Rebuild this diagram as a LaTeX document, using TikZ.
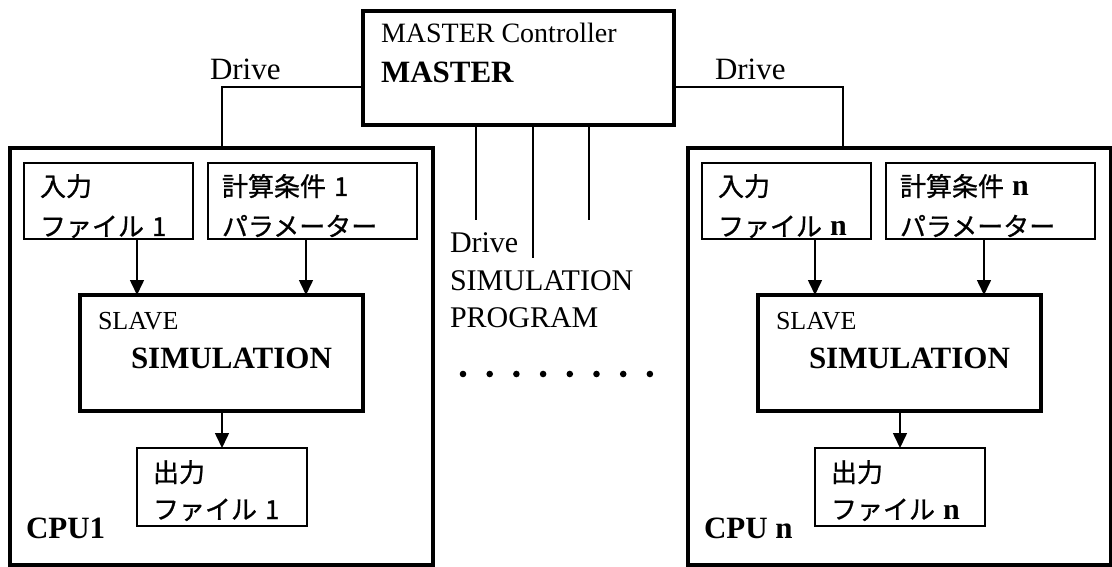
\documentclass[tikz,border=0pt]{standalone}
\usepackage{fontspec}
\setmainfont{Liberation Serif}
\newfontfamily\jp[FakeBold=0.9]{Noto Sans CJK JP}
\usetikzlibrary{arrows.meta}

% one CPU column: #1 name suffix, #2 horizontal shift, #3 index in the Japanese labels, #4 CPU label
\newcommand\cpucolumn[4]{%
\begin{scope}[xshift=#2pt]
  \node[thickbox, minimum width=423pt, minimum height=417pt] (cpu#1) at (10,148) {};
  \node[thinbox, minimum width=169pt, minimum height=76pt] (in#1) at (24,163) {};
  \node[thinbox, minimum width=209pt, minimum height=76pt] (par#1) at (208,163) {};
  \node[thickbox, minimum width=283pt, minimum height=116pt] (sl#1) at (80,295) {};
  \node[thinbox, minimum width=170pt, minimum height=78pt] (out#1) at (137,448) {};
  \node[jptxt] (inA#1) at (40,196) {入力};
  \node[jptxt] (inB#1) at (40,236) {ファイル\hspace{8pt}#3};
  \node[jptxt] (parA#1) at (222,196) {計算条件\hspace{8pt}#3};
  \node[jptxt] (parB#1) at (222,236) {パラメーター};
  \node[jptxt] (outA#1) at (153,482) {出力};
  \node[jptxt] (outB#1) at (153,519) {ファイル\hspace{8pt}#3};
  \node[txt, font=\fontsize{26}{30}\selectfont] (slA#1) at (98,329) {SLAVE};
  \node[txt, font=\fontsize{31}{36}\selectfont\bfseries] (slB#1) at (131,368) {SIMULATION};
  \node[txt, font=\fontsize{31}{36}\selectfont\bfseries] (lab#1) at (26,538) {#4};
  \coordinate (xa#1) at (137,0);
  \coordinate (xb#1) at (306,0);
  \coordinate (xc#1) at (222,0);
  \draw[arr] (in#1.south -| xa#1) -- (sl#1.north -| xa#1);
  \draw[arr] (par#1.south -| xb#1) -- (sl#1.north -| xb#1);
  \draw[arr] (sl#1.south -| xc#1) -- (out#1.north -| xc#1);
\end{scope}}

\begin{document}
\begin{tikzpicture}[x=1pt, y=-1pt,
  thickbox/.style={draw, line width=3.2pt, inner sep=0pt, outer sep=0pt, anchor=north west},
  thinbox/.style={draw, line width=1.6pt, inner sep=0pt, outer sep=0pt, anchor=north west},
  wire/.style={line width=1.6pt},
  arr/.style={line width=1.6pt, -{Triangle[length=15pt, width=14pt]}},
  txt/.style={inner sep=0pt, outer sep=0pt, anchor=base west},
  jptxt/.style={txt, font=\jp\fontsize{26}{30}\selectfont}]
\useasboundingbox (0,0) rectangle (1112,567);

% master controller
\node[thickbox, minimum width=311pt, minimum height=114pt] (ms) at (363,11) {};
\node[txt, font=\fontsize{28}{32}\selectfont] (msA) at (381,43) {MASTER Controller};
\node[txt, font=\fontsize{31}{36}\selectfont\bfseries] (msB) at (381,83) {MASTER};

% the two CPU columns
\cpucolumn{1}{0}{1}{CPU1}
\cpucolumn{n}{678}{{\rmfamily\fontsize{30}{34}\selectfont\bfseries n}}{CPU n}

% drive links from the master to each CPU
\coordinate (dl) at (222,87);
\coordinate (dr) at (843,87);
\draw[wire] (ms.west |- dl) -| (cpu1.north -| dl);
\draw[wire] (ms.east |- dr) -| (cpun.north -| dr);
\node[txt, font=\fontsize{31}{36}\selectfont] (drvL) at (210,80) {Drive};
\node[txt, font=\fontsize{31}{36}\selectfont] (drvR) at (715,80) {Drive};

% links to the further CPUs
\coordinate (m1) at (476,220);
\coordinate (m2) at (533,258);
\coordinate (m3) at (589,220);
\draw[wire] (ms.south -| m1) -- (m1);
\draw[wire] (ms.south -| m2) -- (m2);
\draw[wire] (ms.south -| m3) -- (m3);
\node[txt, font=\fontsize{30}{36}\selectfont] (drvM) at (450,252) {Drive};
\node[txt, font=\fontsize{30}{36}\selectfont] (simM) at (450,290) {SIMULATION};
\node[txt, font=\fontsize{30}{36}\selectfont] (prgM) at (450,327) {PROGRAM};

% ellipsis dots
\foreach \i in {0,...,7} \fill (463+26.7*\i,374) circle (3.3);
\end{tikzpicture}
\end{document}
